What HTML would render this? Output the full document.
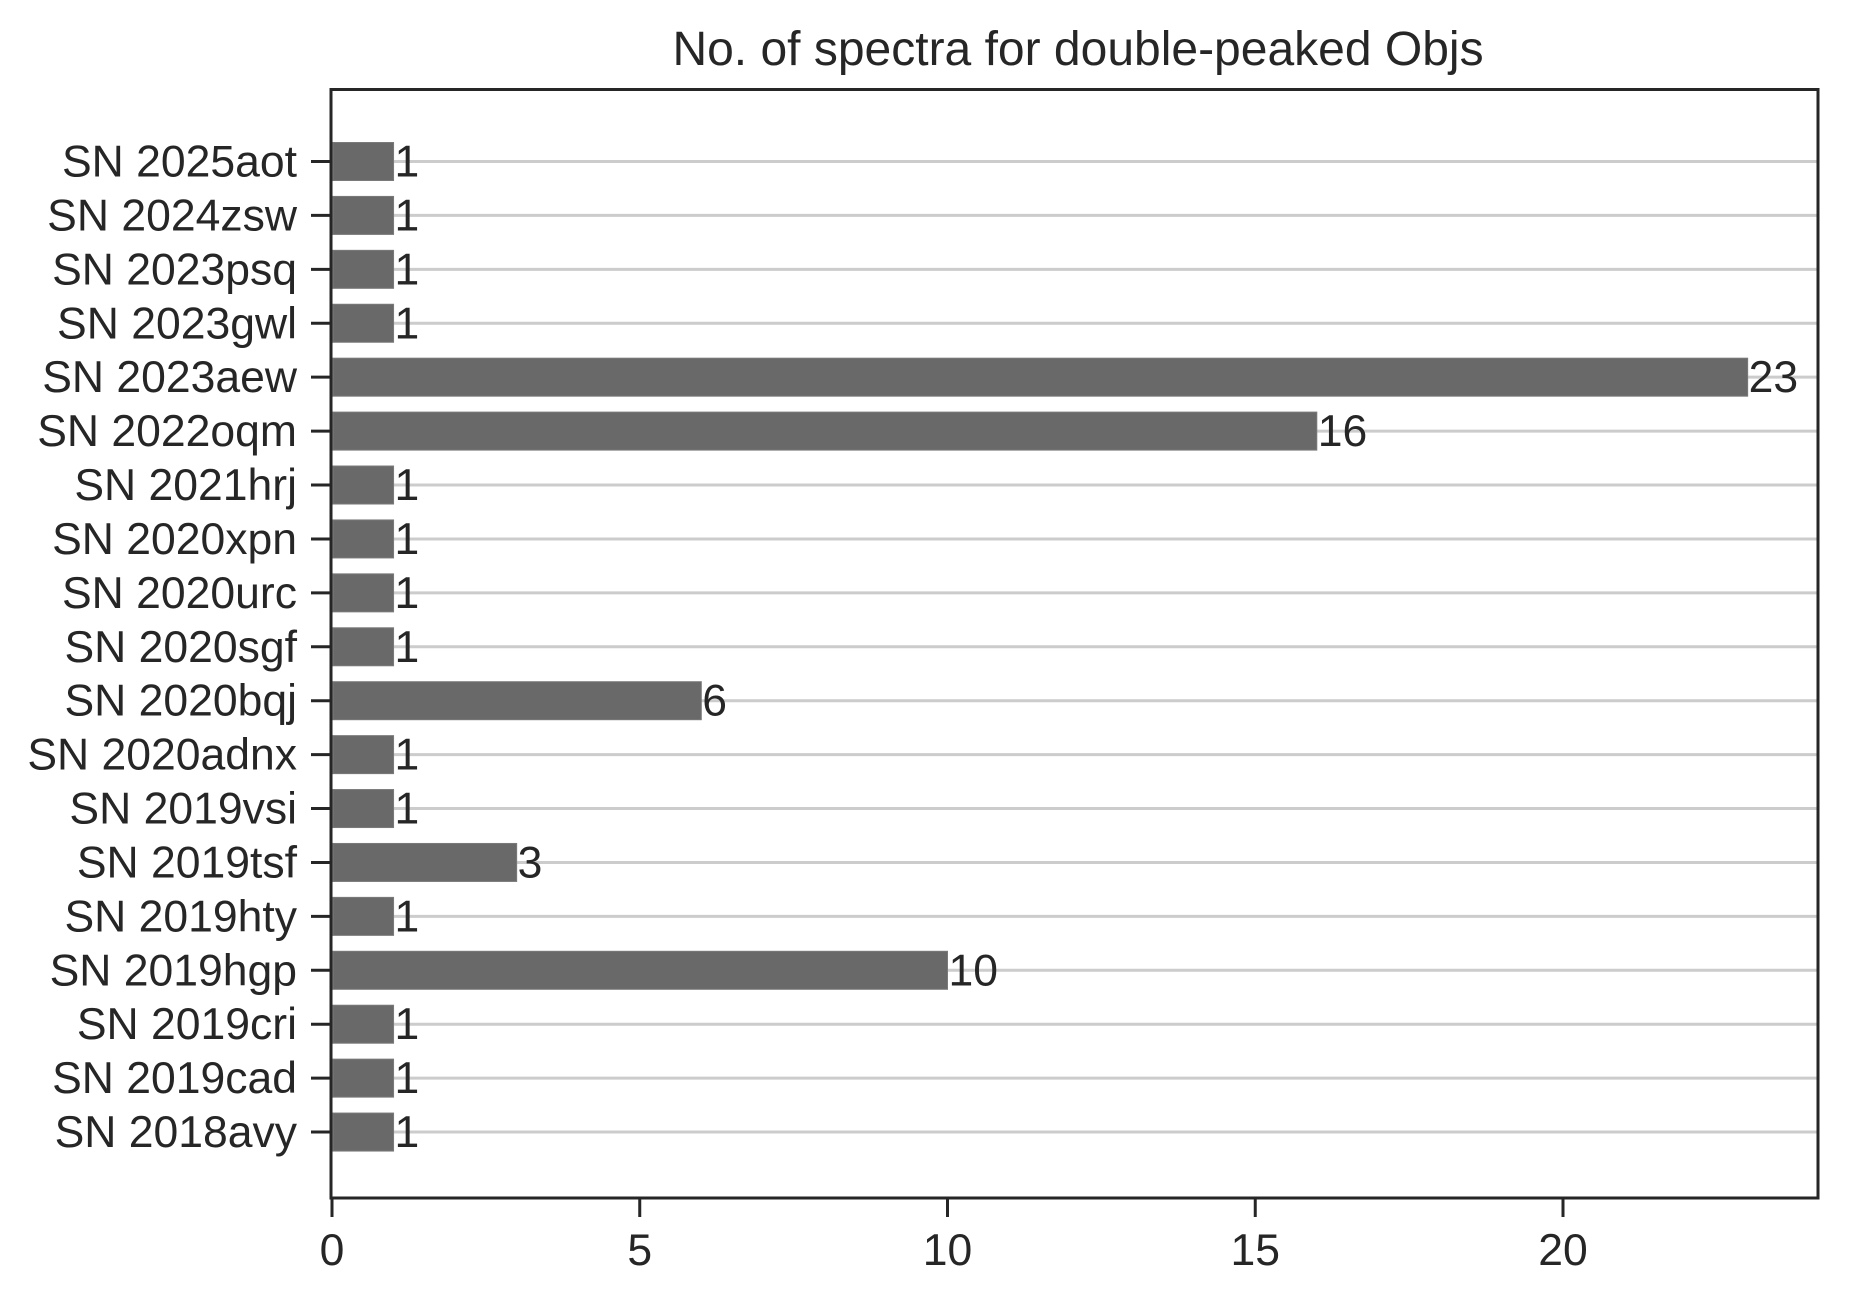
<!DOCTYPE html>
<html><head><meta charset="utf-8"><style>
html,body{margin:0;padding:0;background:#fff}
svg{display:block}
text{font-family:"Liberation Sans",Arial,sans-serif;fill:#262626}
</style></head><body>
<svg id="chart" width="1849" height="1303" viewBox="0 0 1849 1303" xmlns="http://www.w3.org/2000/svg">
<rect width="1849" height="1303" fill="#fff"/>
<text x="1078" y="65" font-size="48" text-anchor="middle">No. of spectra for double-peaked Objs</text>
<g id="grid"></g><g id="bars"></g><g id="labels"></g><g id="yticks"></g><g id="xticks"></g>
<rect x="331" y="89.5" width="1487" height="1108.5" fill="none" stroke="#262626" stroke-width="3"/>
</svg>
<script>
const categories=["SN 2025aot","SN 2024zsw","SN 2023psq","SN 2023gwl","SN 2023aew","SN 2022oqm","SN 2021hrj","SN 2020xpn","SN 2020urc","SN 2020sgf","SN 2020bqj","SN 2020adnx","SN 2019vsi","SN 2019tsf","SN 2019hty","SN 2019hgp","SN 2019cri","SN 2019cad","SN 2018avy"];
const counts=[1,1,1,1,23,16,1,1,1,1,6,1,1,3,1,10,1,1,1];
const xTicks=[0,5,10,15,20];
const NS="http://www.w3.org/2000/svg";
const x0=332, pxPerUnit=61.55;
function xs(v){return x0+v*pxPerUnit;}
const yTop=161.5, yStep=53.92;
function ys(i){return yTop+i*yStep;}
function mk(tag,attrs,parent){const e=document.createElementNS(NS,tag);for(const k in attrs)e.setAttribute(k,attrs[k]);document.getElementById(parent).appendChild(e);return e;}
categories.forEach((c,i)=>{
  const y=ys(i);
  const g=mk('line',{x1:333,x2:1817,y1:y,y2:y,stroke:'#cccccc','stroke-width':3},'grid');
  
  
  const b=mk('rect',{x:xs(0)+1,y:y-19,width:xs(counts[i])-xs(0)-1,height:38,fill:'#696969',stroke:'#7a7a7a','stroke-width':1},'bars');
  
  
  const t=mk('text',{x:xs(counts[i])+1,y:y+15,'font-size':44.5},'labels');
  t.textContent=counts[i];
  
  
  const tk=mk('line',{x1:311,x2:331,y1:y,y2:y,stroke:'#262626','stroke-width':3},'yticks');
  
  
  const tl=mk('text',{x:297,y:y+15,'font-size':44.5,'text-anchor':'end'},'yticks');
  tl.textContent=c;
  
  
});
xTicks.forEach(v=>{
  const x=xs(v);
  const tk=mk('line',{x1:x,x2:x,y1:1198,y2:1217,stroke:'#262626','stroke-width':3},'xticks');
  
  
  const tl=mk('text',{x:x,y:1265,'font-size':44.5,'text-anchor':'middle'},'xticks');
  tl.textContent=v;
  
  
});
</script>
</body></html>
